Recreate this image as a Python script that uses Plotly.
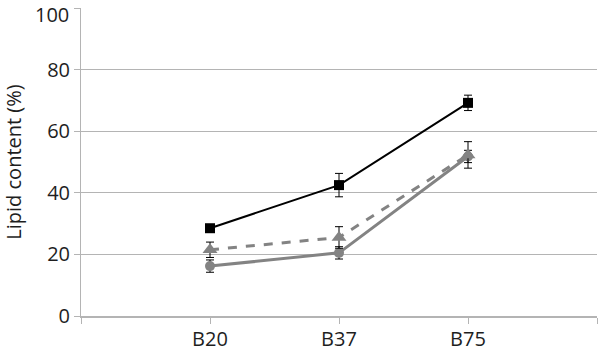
import plotly.graph_objects as go

categories = ["B20", "B37", "B75"]
x_pos = [1, 2, 3]
y_ticks = [0, 20, 40, 60, 80, 100]

black_vals = [28.5, 42.5, 69.2]
black_err = [1.0, 3.8, 2.5]

dash_vals = [21.5, 25.5, 52.3]
dash_err = [2.5, 3.5, 4.3]

circle_vals = [16.2, 20.5, 51.8]
circle_err = [2.0, 2.0, 2.0]

gray = "#838383"
text_col = "#1e1e1e"

fig = go.Figure()

fig.add_trace(go.Scatter(
    x=x_pos, y=circle_vals, mode="lines+markers",
    line=dict(color=gray, width=3),
    marker=dict(symbol="circle", size=10, color=gray),
    error_y=dict(type="data", array=circle_err, color="black", thickness=1, width=4),
    showlegend=False))

fig.add_trace(go.Scatter(
    x=x_pos, y=dash_vals, mode="lines+markers",
    line=dict(color=gray, width=3, dash="dash"),
    marker=dict(symbol="triangle-up", size=13, color=gray),
    error_y=dict(type="data", array=dash_err, color="black", thickness=1, width=4),
    showlegend=False))

fig.add_trace(go.Scatter(
    x=x_pos, y=black_vals, mode="lines+markers",
    line=dict(color="black", width=2),
    marker=dict(symbol="square", size=10, color="black"),
    error_y=dict(type="data", array=black_err, color="black", thickness=1, width=4),
    showlegend=False))

# top tick label drawn slightly lowered so it stays inside the picture
y_ticktext = [str(v) for v in y_ticks[:-1]] + [""]
fig.add_annotation(
    x=0, xref="paper", xanchor="right", xshift=-10,
    y=y_ticks[-1], yref="y", yanchor="middle", yshift=-6,
    text=str(y_ticks[-1]), showarrow=False,
    font=dict(size=20, color=text_col, family="Open Sans, Liberation Sans, sans-serif"),
)

fig.update_layout(
    width=598, height=350,
    margin=dict(l=81, r=1, t=8, b=34),
    paper_bgcolor="white", plot_bgcolor="white",
    font=dict(family="Open Sans, Liberation Sans, sans-serif", color=text_col, size=20),
    xaxis=dict(
        range=[0, 4],
        tickvals=[0, 1, 2, 3, 4],
        ticktext=["", categories[0], categories[1], categories[2], ""],
        showgrid=False, zeroline=False,
        showline=True, linecolor="#b4b4b4", linewidth=2,
        ticks="outside", ticklen=6, tickcolor="#b4b4b4", tickwidth=1,
        tickfont=dict(size=20),
        ticklabeloverflow="allow",
        ticklabelstandoff=-2,
        automargin=False,
    ),
    yaxis=dict(
        range=[0, 100],
        tickvals=y_ticks,
        ticktext=y_ticktext,
        showgrid=True, gridcolor="#b4b4b4", gridwidth=1,
        zeroline=False,
        showline=True, linecolor="#b4b4b4", linewidth=1,
        ticks="outside", ticklen=6, tickcolor="#b4b4b4",
        tickfont=dict(size=20),
        ticklabeloverflow="allow",
        automargin=False,
        title=dict(text="Lipid content (%)", font=dict(size=20), standoff=20),
    ),
)

fig.write_html(
    "out.html",
    config={"displayModeBar": False},
    post_script="document.body.style.margin='0';document.body.style.overflow='hidden';",
)
